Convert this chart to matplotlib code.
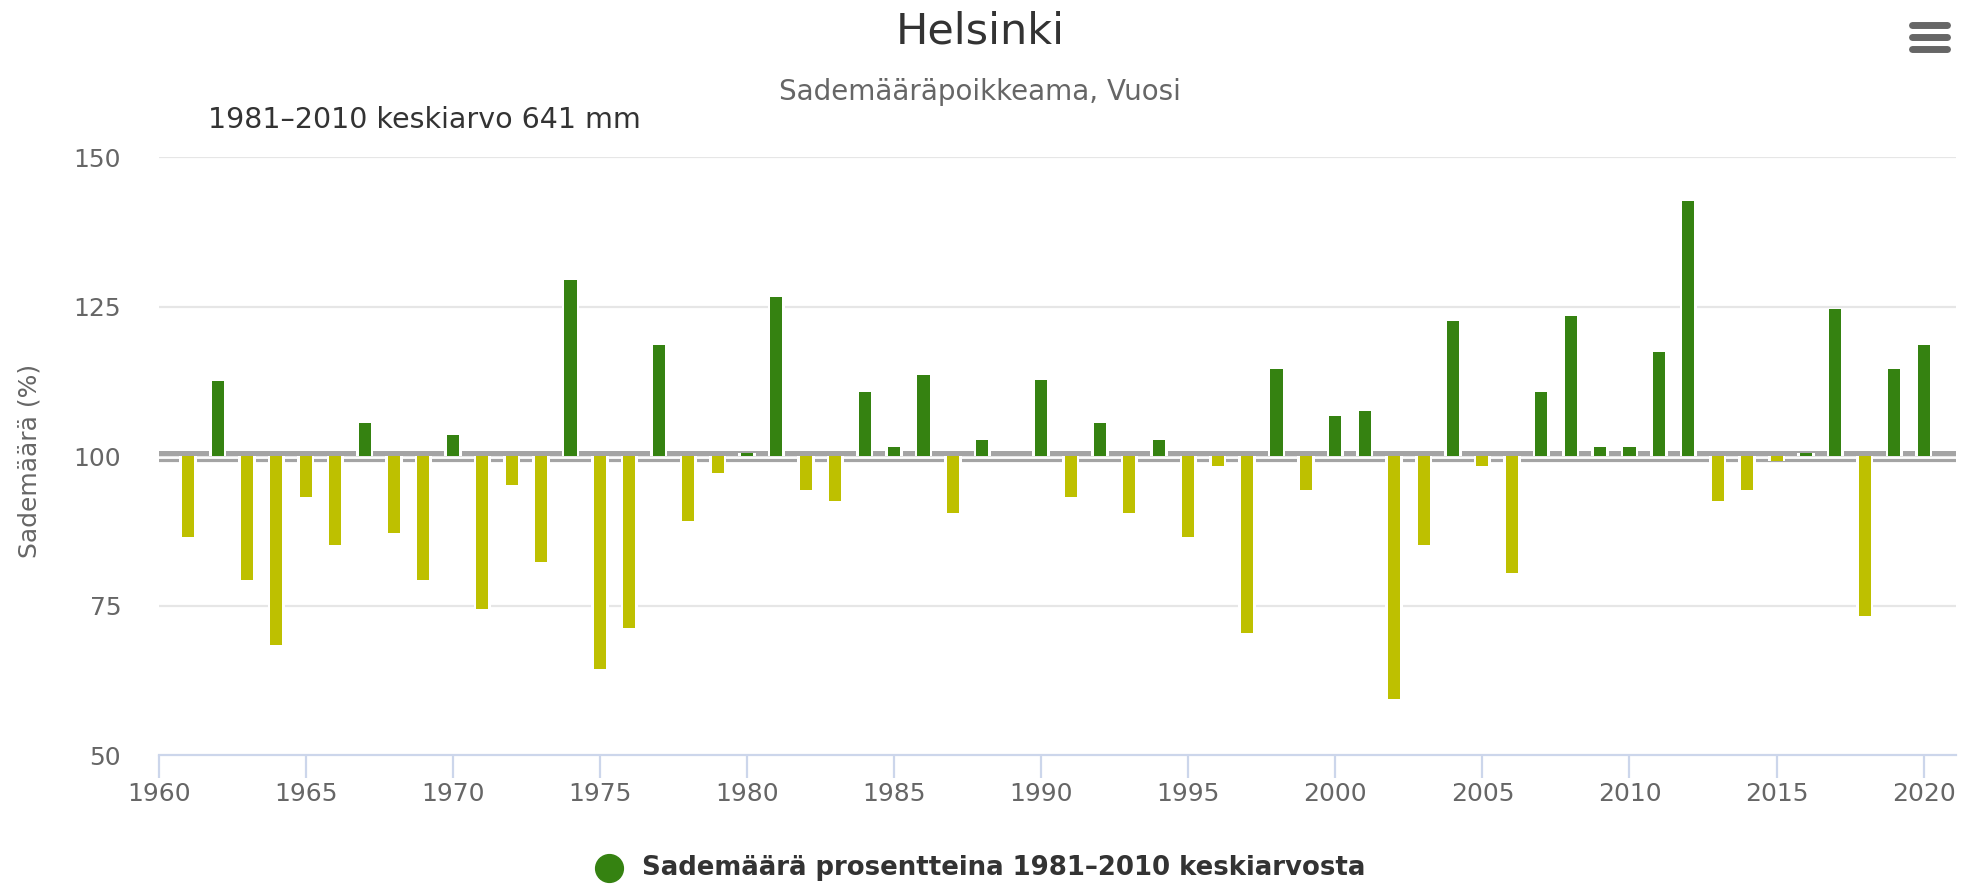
import matplotlib
matplotlib.use("Agg")
import matplotlib.pyplot as plt
from matplotlib.lines import Line2D
import numpy as np

# ---- data ----
years = list(range(1961, 2021))
values = [86.4, 112.6, 79.2, 68.4, 93.1, 85.2, 105.5, 87.2, 79.2, 103.5,
          74.4, 95.1, 82.3, 129.4, 64.4, 71.3, 118.6, 89.2, 97.1, 100.5,
          126.6, 94.4, 92.4, 110.7, 101.5, 113.5, 90.4, 102.7, 100.0, 112.7,
          93.1, 105.6, 90.4, 102.7, 86.4, 98.3, 70.4, 114.6, 94.4, 106.7,
          107.5, 59.3, 85.2, 122.6, 98.3, 80.4, 110.7, 123.4, 101.5, 101.5,
          117.4, 142.6, 92.4, 94.4, 99.1, 100.5, 124.6, 73.3, 114.6, 118.6]
baseline = 100
y_ticks = [50, 75, 100, 125, 150]
x_ticks = list(range(1960, 2021, 5))

title = "Helsinki"
subtitle = "Sademääräpoikkeama, Vuosi"
note = "1981–2010 keskiarvo 641 mm"
ylabel = "Sademäärä (%)"
legend_label = "Sademäärä prosentteina 1981–2010 keskiarvosta"

GREEN = "#358211"
YELLOW = "#bec000"

W, H = 1969, 888
plt.rcParams['font.family'] = ['DejaVu Sans']
fig = plt.figure(figsize=(W / 100, H / 100), dpi=100)

def fx(px):
    return px / W

def fy(py):
    return 1 - py / H

ax = fig.add_axes([fx(158.7), fy(755), fx(1956 - 158.7), (755 - 157.1) / H])
ax.set_xlim(1960, 2021.1)
ax.set_ylim(50, 150)

# grid
for t in y_ticks[1:]:
    ax.axhline(t, color="#e6e6e6", lw=1.6, zorder=0)

# baseline bands
ax.axhline(100.43, color="#a4a4a4", lw=3.6, zorder=1)
ax.axhline(99.3, color="#a4a4a4", lw=2.3, zorder=1)

x = np.array(years)
v = np.array(values)
heights = v - baseline
colors = [GREEN if h >= 0 else YELLOW for h in heights]
# white borders
ax.bar(x, heights, bottom=baseline, width=0.59, color="white", zorder=2, linewidth=0)
ax.bar(x, heights, bottom=baseline, width=0.41, color=colors, zorder=3, linewidth=0)

# axes styling
for s in ["top", "right", "left"]:
    ax.spines[s].set_visible(False)
ax.spines["bottom"].set_color("#ccd6eb")
ax.spines["bottom"].set_linewidth(1.6)
ax.spines["bottom"].set_zorder(4)
ax.set_xticks(x_ticks)
ax.set_xticklabels([str(t) for t in x_ticks])
ax.tick_params(axis="x", length=16.6, width=1.6, color="#ccd6eb", pad=2.7,
               labelsize=18, labelcolor="#666666")
ax.set_yticks(y_ticks)
ax.set_yticklabels([str(t) for t in y_ticks])
ax.tick_params(axis="y", length=0, pad=27, labelsize=18, labelcolor="#666666")

# texts
fig.text(fx(980), fy(44), title, ha="center", va="baseline", fontsize=31, color="#333333")
fig.text(fx(980), fy(100), subtitle, ha="center", va="baseline", fontsize=20, color="#666666")
fig.text(fx(208), fy(128.3), note, ha="left", va="baseline", fontsize=20.5, color="#333333")
fig.text(fx(30), fy(461), ylabel, ha="center", va="center", rotation=90, fontsize=18, color="#666666")

# legend
fig.add_artist(Line2D([fx(609)], [fy(868)], marker="o", markersize=20, color=GREEN,
                      linestyle="none", transform=fig.transFigure))
fig.text(fx(641.7), fy(868), legend_label, ha="left", va="center", fontsize=18.7,
         fontweight="bold", color="#333333")

# menu icon
for yy in [25, 37.3, 49.3]:
    fig.add_artist(Line2D([fx(1912), fx(1947)], [fy(yy), fy(yy)], lw=5, color="#666666",
                          solid_capstyle="round", transform=fig.transFigure))

fig.savefig("out.png", dpi=100)
